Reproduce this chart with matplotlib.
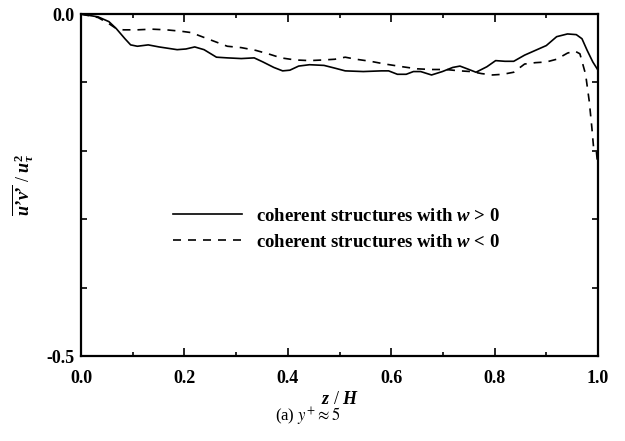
import matplotlib
matplotlib.use("Agg")
import matplotlib.pyplot as plt
from matplotlib.ticker import MultipleLocator, FuncFormatter

plt.rcParams["font.family"] = "Liberation Serif"
plt.rcParams["mathtext.fontset"] = "custom"
plt.rcParams["mathtext.rm"] = "Liberation Serif:bold"
plt.rcParams["mathtext.it"] = "Liberation Serif:italic:bold"
plt.rcParams["mathtext.bf"] = "Liberation Serif:bold"

# coherent structures with w > 0
z_pos = [0.0, 0.033, 0.054, 0.068, 0.085, 0.096, 0.109, 0.130, 0.151, 0.186,
         0.203, 0.220, 0.238, 0.262, 0.283, 0.310, 0.335, 0.352, 0.373, 0.390,
         0.404, 0.421, 0.442, 0.470, 0.491, 0.511, 0.546, 0.581, 0.595, 0.612,
         0.629, 0.643, 0.657, 0.678, 0.699, 0.719, 0.733, 0.747, 0.764, 0.785,
         0.802, 0.820, 0.837, 0.858, 0.879, 0.900, 0.920, 0.941, 0.958, 0.969,
         0.979, 0.990, 1.000]
uv_pos = [0.0, -0.004, -0.011, -0.021, -0.036, -0.045, -0.047, -0.045, -0.048, -0.052,
          -0.051, -0.048, -0.052, -0.063, -0.064, -0.065, -0.064, -0.070, -0.078, -0.083,
          -0.082, -0.076, -0.074, -0.075, -0.079, -0.083, -0.084, -0.083, -0.083, -0.088,
          -0.088, -0.084, -0.084, -0.089, -0.084, -0.078, -0.076, -0.080, -0.085, -0.077,
          -0.068, -0.069, -0.069, -0.060, -0.053, -0.046, -0.033, -0.029, -0.030, -0.036,
          -0.053, -0.070, -0.082]

# coherent structures with w < 0
z_neg = [0.0, 0.033, 0.054, 0.068, 0.082, 0.109, 0.137, 0.165, 0.193, 0.213,
         0.234, 0.262, 0.283, 0.310, 0.338, 0.366, 0.387, 0.414, 0.442, 0.470,
         0.491, 0.511, 0.532, 0.560, 0.588, 0.622, 0.650, 0.678, 0.705, 0.733,
         0.754, 0.775, 0.796, 0.816, 0.837, 0.858, 0.879, 0.900, 0.920, 0.941,
         0.955, 0.965, 0.976, 0.983, 0.988, 0.992, 0.997, 1.000]
uv_neg = [0.0, -0.005, -0.014, -0.021, -0.023, -0.023, -0.022, -0.023, -0.025, -0.027,
          -0.033, -0.041, -0.047, -0.049, -0.053, -0.059, -0.064, -0.067, -0.068, -0.067,
          -0.066, -0.063, -0.066, -0.069, -0.073, -0.077, -0.080, -0.081, -0.081, -0.083,
          -0.084, -0.087, -0.089, -0.088, -0.085, -0.073, -0.071, -0.070, -0.066, -0.057,
          -0.054, -0.058, -0.088, -0.127, -0.165, -0.200, -0.202, -0.225]

DASH = (0, (4.8, 4.2))

fig = plt.figure(figsize=(6.25, 4.41), dpi=100)
ax = fig.add_axes([0.1296, 0.1927, 0.8272, 0.7753])

ax.plot(z_pos, uv_pos, color="black", lw=1.2,
        label=r"coherent structures with $w$ > 0")
ax.plot(z_neg, uv_neg, color="black", lw=1.2, linestyle=DASH,
        label=r"coherent structures with $w$ < 0")

ax.set_xlim(0, 1)
ax.set_ylim(-0.5, 0)
ax.xaxis.set_major_locator(MultipleLocator(0.2))
ax.xaxis.set_minor_locator(MultipleLocator(0.1))
ax.yaxis.set_major_locator(MultipleLocator(0.1))
ax.xaxis.set_major_formatter(FuncFormatter(lambda v, p: f"{v:.1f}"))
ax.yaxis.set_major_formatter(
    FuncFormatter(lambda v, p: f"{v:.1f}" if abs(v) < 1e-9 or abs(v + 0.5) < 1e-9 else ""))

for s in ax.spines.values():
    s.set_linewidth(1.6)
ax.tick_params(which="both", direction="in", top=True, right=True, width=1.2)
ax.tick_params(axis="x", which="major", length=5.5, labelsize=13, pad=10)
ax.tick_params(axis="x", which="minor", length=3)
ax.tick_params(axis="y", which="major", length=4, labelsize=13, pad=5)
for lab in ax.get_xticklabels() + ax.get_yticklabels():
    lab.set_fontweight("bold")

ax.set_xlabel(r"$z$ / $H$", fontsize=13, labelpad=3)
ax.set_ylabel(r"$\overline{u’v’}$ / $u_\tau^2$", fontsize=13, labelpad=7)

leg = ax.legend(loc="center left", bbox_to_anchor=(0.159, 0.371), frameon=False,
                borderpad=0, handlelength=3.7, handletextpad=0.75, labelspacing=0.45,
                prop={"weight": "bold", "size": 13.5})

fig.text(0.493, 1 - 428 / 441, r"(a) $\mathit{y}^{+} \approx 5$", fontsize=12,
         ha="center", va="bottom", math_fontfamily="stix")

fig.savefig("out.png", dpi=100)
